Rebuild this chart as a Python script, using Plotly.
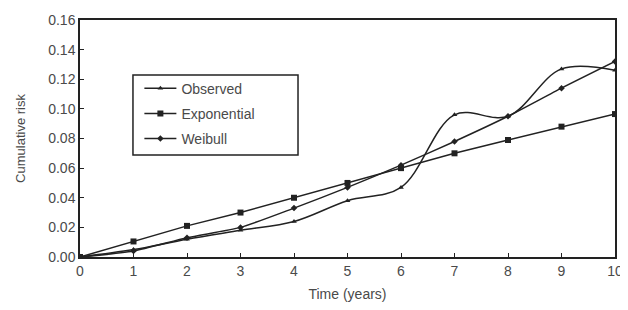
import plotly.graph_objects as go

years = [0, 1, 2, 3, 4, 5, 6, 7, 8, 9, 10]
observed = [0.0, 0.005, 0.012, 0.018, 0.024, 0.038, 0.047, 0.096, 0.095, 0.127, 0.126]
exponential = [0.0, 0.0105, 0.021, 0.030, 0.040, 0.050, 0.060, 0.070, 0.079, 0.088, 0.0965]
weibull = [0.0, 0.004, 0.013, 0.020, 0.033, 0.047, 0.062, 0.078, 0.095, 0.114, 0.132]

line_col = "#222222"
fig = go.Figure()
fig.add_trace(go.Scatter(x=years, y=observed, name="Observed", mode="lines+markers",
                         legendgroup="a",
                         line=dict(color=line_col, width=1.5, shape="spline", smoothing=1.0),
                         marker=dict(symbol="triangle-up", size=5, color=line_col)))
fig.add_trace(go.Scatter(x=years, y=exponential, name="Exponential", mode="lines+markers",
                         legendgroup="b",
                         line=dict(color=line_col, width=1.5),
                         marker=dict(symbol="square", size=6, color=line_col)))
fig.add_trace(go.Scatter(x=years, y=weibull, name="Weibull", mode="lines+markers",
                         legendgroup="c",
                         line=dict(color=line_col, width=1.5, shape="spline", smoothing=0.6),
                         marker=dict(symbol="diamond", size=5, color=line_col)))

font = "Liberation Sans, Arial, sans-serif"
fig.update_layout(
    width=620, height=294,
    margin=dict(l=72, r=13, t=12, b=45, autoexpand=False),
    paper_bgcolor="white", plot_bgcolor="white",
    font=dict(family=font, size=14, color="#4a4a4a"),
    showlegend=True,
    legend=dict(x=0.111, y=0.778, xanchor="left", yanchor="top",
                borderwidth=0, bgcolor="rgba(0,0,0,0)",
                font=dict(size=14, color="#4a4a4a"), itemwidth=32,
                tracegroupgap=4),
    shapes=[dict(type="rect", xref="paper", yref="paper", x0=0.099, x1=0.4075,
                 y0=0.43, y1=0.768, line=dict(color="#222222", width=1.5),
                 layer="below")],
)
fig.update_xaxes(range=[0, 10], dtick=1, showline=True, linecolor="#222222", linewidth=1.5,
                 mirror=True, ticks="inside", ticklen=4, tickcolor="#222222",
                 showgrid=False, zeroline=False, tickfont=dict(size=14),
                 ticklabeloverflow="allow", automargin=False,
                 title=dict(text="Time (years)", font=dict(size=14), standoff=16))
fig.update_yaxes(range=[0, 0.16], dtick=0.02, tickformat=".2f", showline=True,
                 linecolor="#222222", linewidth=1.5, mirror=True, ticks="inside",
                 ticklen=4, tickcolor="#222222", showgrid=False, zeroline=False,
                 tickfont=dict(size=14), automargin=False,
                 title=dict(text="Cumulative risk", font=dict(size=13), standoff=20))
fig.write_html("out.html")
